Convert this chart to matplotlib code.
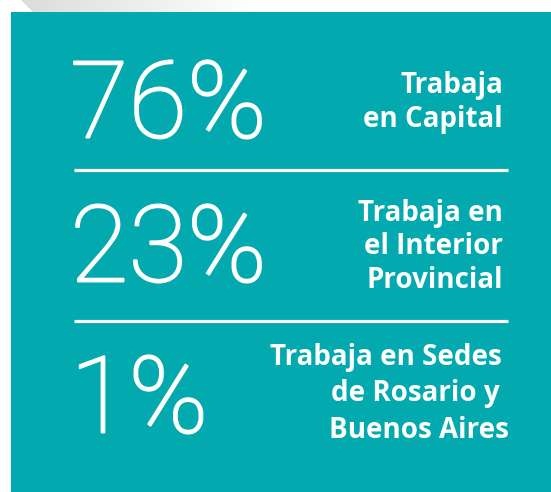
import matplotlib
matplotlib.use("Agg")
from matplotlib import pyplot as plt
from matplotlib.patches import Polygon, Rectangle
import matplotlib.patheffects as pe
import numpy as np

percents = ["76%", "23%", "1%"]
labels = [
    ["Trabaja", "en Capital"],
    ["Trabaja en", "el Interior", "Provincial"],
    ["Trabaja en Sedes", "de Rosario y", "Buenos Aires"],
]

teal = "#02a9ae"

fig = plt.figure(figsize=(5.51, 4.92), dpi=100)
ax = fig.add_axes([0, 0, 1, 1])
ax.set_xlim(0, 551)
ax.set_ylim(492, 0)
ax.axis("off")

# grey shadow strip at the top
grad = np.linspace(0.86, 1.0, 256).reshape(1, -1)
img = ax.imshow(grad, cmap="gray", vmin=0, vmax=1, extent=[20, 260, 12, 0],
                aspect="auto", zorder=1)
shadow = Polygon([(21, 0), (33, 12), (260, 12), (260, 0)], closed=True,
                 transform=ax.transData, facecolor="none", edgecolor="none")
ax.add_patch(shadow)
img.set_clip_path(shadow)

# teal panel
ax.add_patch(Rectangle((11, 12), 551 - 11, 492 - 12, facecolor=teal,
                       edgecolor="none", zorder=2))

# separators
for y in [169.5, 321]:
    ax.plot([74, 508], [y, y], color="white", lw=2.3, solid_capstyle="butt", zorder=3)

num_y = [108, 252, 403]
label_y = [[86, 120], [213, 247, 280], [358, 394, 430]]
label_x = [[503, 503], [503, 503, 503], [502, 500, 509]]

thick = [pe.withStroke(linewidth=1.4, foreground="white")]

for i, p in enumerate(percents):
    ax.text(70, num_y[i], p, color="white", fontsize=77, family="Roboto",
            fontweight="light", ha="left", va="center", zorder=4, path_effects=thick)
    for j, line in enumerate(labels[i]):
        ax.text(label_x[i][j], label_y[i][j], line, color="white", fontsize=20,
                family="Open Sans", fontweight="bold", ha="right", va="center", zorder=4)

fig.savefig("out.png", dpi=100)
